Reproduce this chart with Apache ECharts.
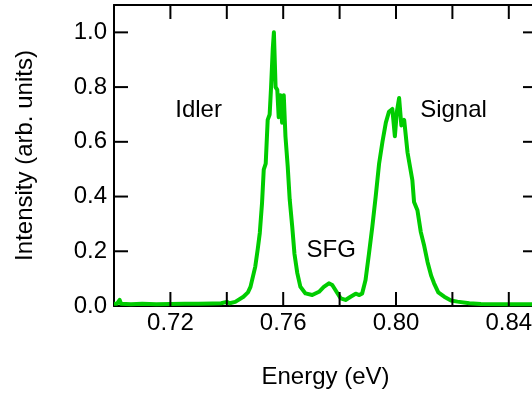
<!DOCTYPE html>
<html>
<head>
<meta charset="utf-8">
<script src="https://cdn.jsdelivr.net/npm/echarts@6/dist/echarts.min.js"></script>
<style>
html,body{margin:0;padding:0;overflow:hidden;background:#fff;}
#chart{width:545px;height:397px;}
</style>
</head>
<body>
<div id="chart"></div>
<script>
const energy = [0.7000,0.7010,0.7020,0.7025,0.7060,0.7100,0.7150,0.7200,0.7250,0.7300,0.7350,0.7380,0.7400,0.7410,0.7430,0.7459,0.7475,0.7484,0.7501,0.7510,0.7517,0.7525,0.7531,0.7538,0.7545,0.7552,0.7557,0.7563,0.7567,0.7570,0.7573,0.7579,0.7584,0.7590,0.7596,0.7602,0.7608,0.7616,0.7623,0.7632,0.7640,0.7650,0.7661,0.7679,0.7703,0.7727,0.7744,0.7762,0.7768,0.7774,0.7789,0.7804,0.7821,0.7839,0.7857,0.7870,0.7880,0.7892,0.7904,0.7916,0.7928,0.7940,0.7952,0.7964,0.7975,0.7987,0.7996,0.8003,0.8011,0.8019,0.8029,0.8041,0.8058,0.8064,0.8076,0.8088,0.8100,0.8112,0.8125,0.8135,0.8150,0.8171,0.8195,0.8218,0.8260,0.8301,0.8400,0.8500];
const intensity = [0.008,0.008,0.022,0.008,0.006,0.008,0.006,0.007,0.008,0.008,0.009,0.010,0.015,0.010,0.015,0.034,0.050,0.070,0.144,0.210,0.267,0.377,0.498,0.520,0.680,0.700,0.800,0.940,1.000,1.000,0.800,0.790,0.690,0.770,0.670,0.770,0.620,0.510,0.390,0.290,0.190,0.120,0.070,0.046,0.040,0.052,0.070,0.083,0.088,0.077,0.052,0.028,0.022,0.034,0.045,0.040,0.046,0.095,0.190,0.290,0.400,0.520,0.600,0.670,0.710,0.720,0.620,0.710,0.760,0.660,0.680,0.560,0.460,0.380,0.350,0.270,0.220,0.160,0.110,0.083,0.050,0.034,0.020,0.016,0.010,0.007,0.006,0.006];
const xTickValues = [0.72,0.74,0.76,0.78,0.80,0.82,0.84];
const xTickLabels = ["0.72","0.76","0.80","0.84"];
const yTickValues = [0.2,0.4,0.6,0.8,1.0];
const yTickLabels = ["0.0","0.2","0.4","0.6","0.8","1.0"];
const annotations = [
  {name:"Idler", value:[0.7300, 0.714]},
  {name:"SFG", value:[0.7770, 0.205]},
  {name:"Signal", value:[0.8204, 0.714]}
];
const X_MIN = 0.70, X_MAX = 0.85, Y_MIN = 0, Y_MAX = 1.1;

const FONT = "Liberation Sans, Arial, Helvetica, sans-serif";
const LW = 2, TICK = 14;
function mkLine(){ return {show:true, onZero:false, lineStyle:{color:"#000000", width:LW}}; }

const chart = echarts.init(document.getElementById("chart"));
chart.setOption({
  animation:false,
  grid:{left:114, right:8, top:5, bottom:91},
  xAxis:[
    {type:"value", position:"bottom", min:X_MIN, max:X_MAX, interval:0.02,
     axisLine:mkLine(), axisTick:{show:false}, splitLine:{show:false},
     axisLabel:{color:"#000", fontSize:24, fontFamily:FONT, margin:5,
       formatter:function(v){const s=(Math.round(v*100)/100).toFixed(2);return xTickLabels.indexOf(s)>=0?s:"";}},
     name:"Energy (eV)", nameLocation:"middle", nameGap:59,
     nameTextStyle:{color:"#000", fontSize:24, fontFamily:FONT}},
    {type:"value", position:"top", min:X_MIN, max:X_MAX, interval:0.02,
     axisLine:mkLine(), axisTick:{show:false}, splitLine:{show:false}, axisLabel:{show:false}}
  ],
  yAxis:[
    {type:"value", position:"left", min:Y_MIN, max:Y_MAX, interval:0.2,
     axisLine:mkLine(), axisTick:{show:false}, splitLine:{show:false},
     axisLabel:{color:"#000", fontSize:24, fontFamily:FONT, margin:7,
       formatter:function(v){const s=(Math.round(v*10)/10).toFixed(1);return yTickLabels.indexOf(s)>=0?s:"";}},
     name:"Intensity (arb. units)", nameLocation:"middle", nameGap:77,
     nameTextStyle:{color:"#000", fontSize:24, fontFamily:FONT}},
    {type:"value", position:"right", min:Y_MIN, max:Y_MAX, interval:0.2,
     axisLine:mkLine(), axisTick:{show:false}, splitLine:{show:false}, axisLabel:{show:false}}
  ],
  series:[
    {type:"line", xAxisIndex:0, yAxisIndex:0, showSymbol:false, symbol:"none",
     data: energy.map((e,i)=>[e, intensity[i]]),
     lineStyle:{color:"#00cc00", width:4, join:"round"}, z:3},
    {type:"scatter", xAxisIndex:0, yAxisIndex:0, symbolSize:1, silent:true,
     itemStyle:{opacity:0},
     data: annotations,
     label:{show:true, position:"inside", formatter:"{b}", color:"#000", opacity:1,
       textBorderWidth:0, fontSize:24, fontFamily:FONT},
     z:4}
  ]
});

// inward-pointing ticks on all four sides, positioned through the axes' own scales
const px = v => chart.convertToPixel({xAxisIndex:0}, v);
const py = v => chart.convertToPixel({yAxisIndex:0}, v);
const yb = py(Y_MIN), yt = py(Y_MAX), xl = px(X_MIN), xr = px(X_MAX);
const tickStyle = {stroke:"#000", lineWidth:LW};
const ticks = [];
xTickValues.forEach(v => {
  const x = px(v);
  ticks.push({type:"line", shape:{x1:x, y1:yb, x2:x, y2:yb-TICK}, style:tickStyle, z:5});
  ticks.push({type:"line", shape:{x1:x, y1:yt, x2:x, y2:yt+TICK}, style:tickStyle, z:5});
});
yTickValues.forEach(v => {
  const y = py(v);
  ticks.push({type:"line", shape:{x1:xl, y1:y, x2:xl+TICK, y2:y}, style:tickStyle, z:5});
  ticks.push({type:"line", shape:{x1:xr, y1:y, x2:xr-TICK, y2:y}, style:tickStyle, z:5});
});
chart.setOption({graphic:ticks});
</script>
</body>
</html>
